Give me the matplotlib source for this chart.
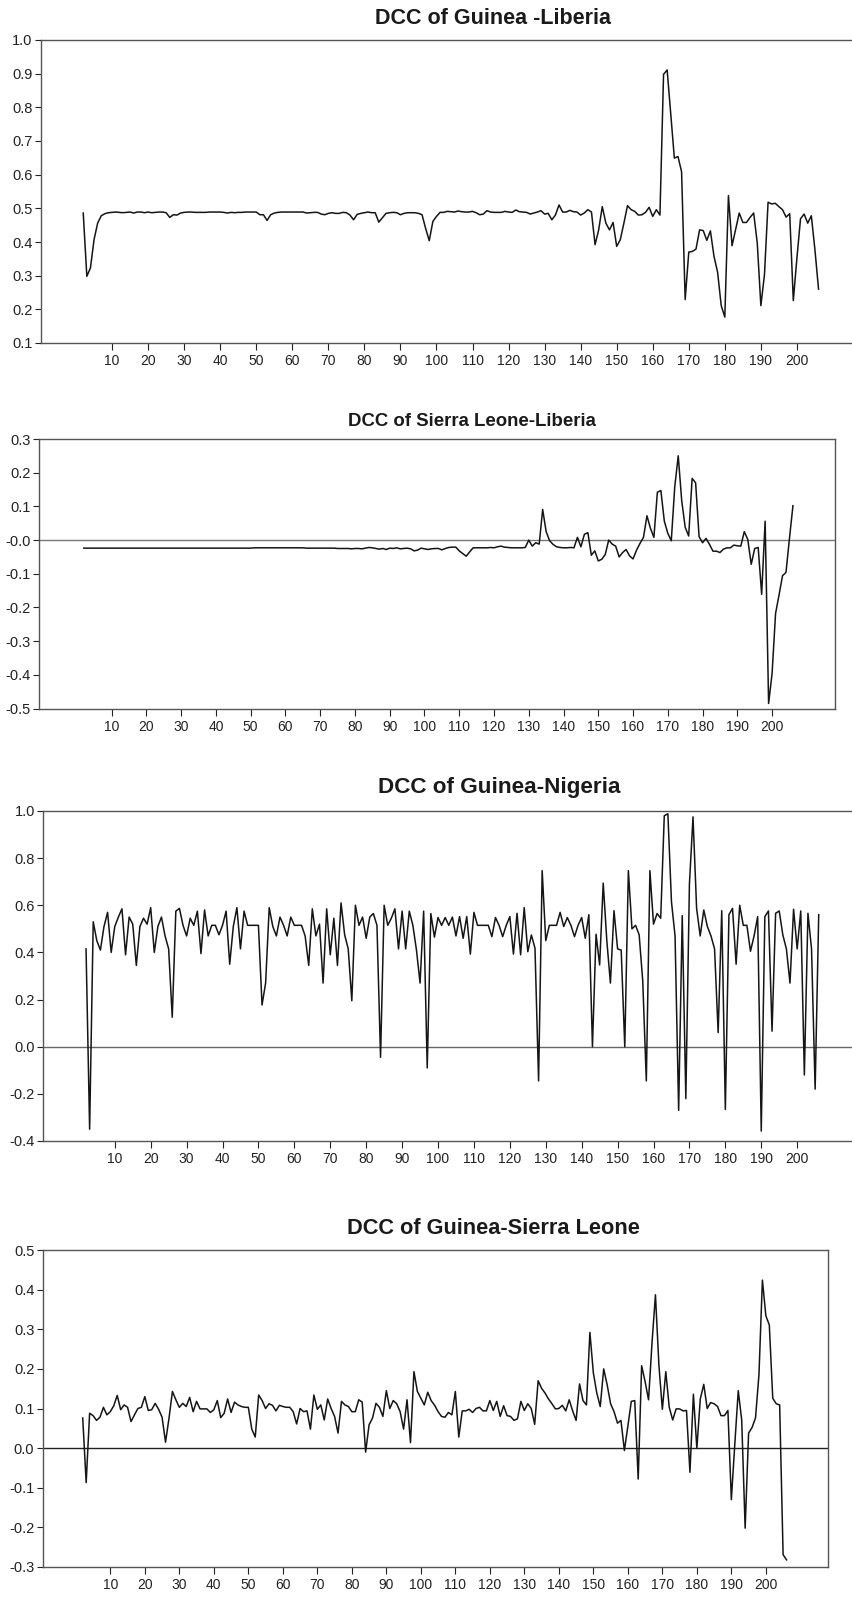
import matplotlib
matplotlib.use("Agg")
import matplotlib.pyplot as plt

plt.rcParams['font.family'] = ['Liberation Sans', 'DejaVu Sans']

# observation index (first obs has no DCC value)
obs = list(range(2, 207))

guinea_liberia = [
    0.486, 0.298, 0.323, 0.407, 0.456, 0.478, 0.484, 0.487, 0.488,
    0.489, 0.488, 0.487, 0.488, 0.489, 0.486, 0.489, 0.489, 0.487, 0.489,
    0.487, 0.488, 0.489, 0.489, 0.487, 0.473, 0.481, 0.480, 0.486, 0.488,
    0.489, 0.489, 0.488, 0.488, 0.488, 0.488, 0.489, 0.489, 0.489, 0.489,
    0.488, 0.486, 0.488, 0.487, 0.488, 0.488, 0.489, 0.489, 0.489, 0.489,
    0.481, 0.481, 0.464, 0.481, 0.486, 0.488, 0.489, 0.489, 0.489, 0.489,
    0.489, 0.489, 0.489, 0.486, 0.487, 0.488, 0.488, 0.483, 0.481, 0.485,
    0.487, 0.485, 0.485, 0.488, 0.487, 0.480, 0.466, 0.482, 0.485, 0.487,
    0.489, 0.487, 0.487, 0.459, 0.472, 0.485, 0.487, 0.488, 0.487, 0.481,
    0.485, 0.487, 0.487, 0.487, 0.485, 0.481, 0.440, 0.404, 0.461, 0.476,
    0.488, 0.488, 0.491, 0.490, 0.489, 0.492, 0.490, 0.489, 0.489, 0.491,
    0.487, 0.481, 0.483, 0.493, 0.489, 0.488, 0.488, 0.488, 0.491, 0.489,
    0.488, 0.495, 0.490, 0.489, 0.488, 0.483, 0.486, 0.489, 0.493, 0.483,
    0.485, 0.466, 0.480, 0.510, 0.489, 0.489, 0.494, 0.490, 0.489, 0.480,
    0.486, 0.496, 0.489, 0.392, 0.436, 0.505, 0.456, 0.436, 0.458, 0.387,
    0.407, 0.456, 0.508, 0.496, 0.491, 0.480, 0.481, 0.488, 0.503, 0.476,
    0.496, 0.480, 0.898, 0.911, 0.778, 0.649, 0.654, 0.609, 0.229, 0.370,
    0.372, 0.379, 0.436, 0.434, 0.405, 0.433, 0.357, 0.310, 0.211, 0.177,
    0.538, 0.389, 0.438, 0.486, 0.458, 0.458, 0.473, 0.486, 0.397, 0.211,
    0.303, 0.518, 0.513, 0.515, 0.505, 0.496, 0.474, 0.484, 0.226, 0.352,
    0.469, 0.483, 0.456, 0.478, 0.377, 0.260,
]

sierra_liberia = [
    -0.024, -0.024, -0.024, -0.024, -0.024, -0.024, -0.024, -0.024, -0.024,
    -0.024, -0.024, -0.024, -0.024, -0.024, -0.024, -0.024, -0.024, -0.024, -0.024,
    -0.024, -0.024, -0.024, -0.024, -0.024, -0.024, -0.024, -0.024, -0.024, -0.024,
    -0.024, -0.024, -0.024, -0.024, -0.024, -0.024, -0.024, -0.024, -0.024, -0.024,
    -0.024, -0.024, -0.024, -0.024, -0.024, -0.024, -0.024, -0.024, -0.024, -0.024,
    -0.023, -0.023, -0.023, -0.023, -0.023, -0.023, -0.023, -0.023, -0.023, -0.023,
    -0.023, -0.023, -0.023, -0.023, -0.023, -0.024, -0.024, -0.024, -0.024, -0.024,
    -0.024, -0.024, -0.024, -0.024, -0.025, -0.025, -0.025, -0.025, -0.026, -0.025,
    -0.025, -0.026, -0.024, -0.022, -0.023, -0.025, -0.027, -0.025, -0.028, -0.024,
    -0.025, -0.023, -0.026, -0.025, -0.024, -0.026, -0.032, -0.030, -0.024, -0.026,
    -0.028, -0.026, -0.025, -0.025, -0.029, -0.025, -0.022, -0.021, -0.021, -0.032,
    -0.040, -0.048, -0.035, -0.023, -0.023, -0.023, -0.023, -0.023, -0.022, -0.023,
    -0.020, -0.018, -0.021, -0.022, -0.023, -0.023, -0.023, -0.023, -0.022, 0.000,
    -0.018, -0.008, -0.012, 0.091, 0.025, -0.002, -0.013, -0.020, -0.022, -0.023,
    -0.023, -0.022, -0.023, 0.008, -0.020, 0.017, 0.022, -0.045, -0.032, -0.062,
    -0.057, -0.043, 0.000, -0.012, -0.018, -0.050, -0.037, -0.028, -0.047, -0.056,
    -0.030, -0.010, 0.008, 0.072, 0.035, 0.008, 0.142, 0.147, 0.056, 0.020,
    -0.002, 0.158, 0.250, 0.117, 0.038, 0.012, 0.183, 0.170, 0.010, -0.008,
    0.005, -0.013, -0.033, -0.033, -0.037, -0.027, -0.023, -0.023, -0.015, -0.017,
    -0.018, 0.025, 0.002, -0.072, -0.025, -0.022, -0.161, 0.056, -0.485, -0.396,
    -0.218, -0.163, -0.106, -0.096, 0.005, 0.102,
]

guinea_nigeria = [
    0.415, -0.350, 0.530, 0.450, 0.410, 0.510, 0.570, 0.400, 0.510,
    0.550, 0.585, 0.390, 0.550, 0.520, 0.345, 0.510, 0.545, 0.520, 0.590,
    0.400, 0.510, 0.550, 0.470, 0.415, 0.125, 0.575, 0.587, 0.515, 0.470,
    0.545, 0.515, 0.575, 0.395, 0.580, 0.470, 0.515, 0.515, 0.475, 0.515,
    0.575, 0.350, 0.510, 0.590, 0.415, 0.575, 0.515, 0.515, 0.515, 0.515,
    0.177, 0.270, 0.590, 0.510, 0.470, 0.550, 0.515, 0.470, 0.550, 0.515,
    0.515, 0.515, 0.470, 0.345, 0.585, 0.470, 0.520, 0.270, 0.585, 0.390,
    0.545, 0.345, 0.610, 0.475, 0.415, 0.195, 0.600, 0.515, 0.550, 0.460,
    0.550, 0.565, 0.515, -0.045, 0.600, 0.515, 0.545, 0.585, 0.415, 0.575,
    0.415, 0.575, 0.515, 0.410, 0.270, 0.575, -0.090, 0.565, 0.465, 0.548,
    0.515, 0.548, 0.515, 0.550, 0.470, 0.552, 0.460, 0.552, 0.393, 0.570,
    0.515, 0.515, 0.515, 0.515, 0.467, 0.548, 0.515, 0.467, 0.515, 0.552,
    0.393, 0.566, 0.390, 0.590, 0.403, 0.474, 0.418, -0.145, 0.747, 0.450,
    0.515, 0.515, 0.515, 0.570, 0.510, 0.548, 0.515, 0.467, 0.515, 0.548,
    0.460, 0.560, 0.000, 0.477, 0.347, 0.694, 0.450, 0.270, 0.577, 0.415,
    0.410, 0.000, 0.747, 0.500, 0.515, 0.475, 0.280, -0.145, 0.747, 0.520,
    0.565, 0.545, 0.980, 0.988, 0.615, 0.470, -0.270, 0.556, -0.220, 0.690,
    0.975, 0.587, 0.470, 0.580, 0.510, 0.470, 0.415, 0.060, 0.577, -0.266,
    0.560, 0.587, 0.350, 0.600, 0.515, 0.515, 0.405, 0.470, 0.552, -0.358,
    0.552, 0.576, 0.066, 0.566, 0.576, 0.475, 0.415, 0.270, 0.583, 0.415,
    0.576, -0.120, 0.566, 0.415, -0.180, 0.560,
]

guinea_sierra = [
    0.076, -0.087, 0.088, 0.082, 0.070, 0.078, 0.103, 0.084, 0.092,
    0.107, 0.133, 0.097, 0.109, 0.103, 0.067, 0.084, 0.100, 0.103, 0.130,
    0.095, 0.097, 0.113, 0.098, 0.078, 0.015, 0.075, 0.143, 0.122, 0.103,
    0.113, 0.105, 0.128, 0.092, 0.118, 0.099, 0.099, 0.099, 0.090, 0.097,
    0.120, 0.077, 0.088, 0.124, 0.090, 0.116, 0.109, 0.105, 0.103, 0.103,
    0.048, 0.028, 0.134, 0.120, 0.100, 0.112, 0.108, 0.094, 0.108, 0.105,
    0.103, 0.103, 0.092, 0.061, 0.100, 0.092, 0.094, 0.048, 0.134, 0.098,
    0.109, 0.071, 0.124, 0.100, 0.080, 0.038, 0.118, 0.109, 0.105, 0.092,
    0.092, 0.122, 0.116, -0.010, 0.059, 0.076, 0.113, 0.103, 0.080, 0.145,
    0.100, 0.120, 0.112, 0.092, 0.048, 0.122, 0.014, 0.193, 0.143, 0.126,
    0.109, 0.141, 0.120, 0.108, 0.092, 0.080, 0.078, 0.090, 0.084, 0.143,
    0.028, 0.094, 0.094, 0.098, 0.090, 0.100, 0.103, 0.094, 0.094, 0.120,
    0.095, 0.118, 0.080, 0.107, 0.082, 0.080, 0.070, 0.074, 0.118, 0.095,
    0.112, 0.100, 0.060, 0.170, 0.151, 0.139, 0.124, 0.112, 0.099, 0.100,
    0.108, 0.094, 0.122, 0.094, 0.070, 0.162, 0.120, 0.109, 0.292, 0.190,
    0.139, 0.105, 0.200, 0.160, 0.112, 0.092, 0.063, 0.070, -0.006, 0.055,
    0.118, 0.120, -0.078, 0.208, 0.168, 0.122, 0.265, 0.387, 0.210, 0.098,
    0.193, 0.103, 0.071, 0.099, 0.099, 0.094, 0.095, -0.061, 0.136, 0.000,
    0.124, 0.161, 0.100, 0.115, 0.112, 0.105, 0.082, 0.082, 0.095, -0.130,
    0.010, 0.145, 0.071, -0.202, 0.038, 0.052, 0.076, 0.185, 0.424, 0.334,
    0.311, 0.126, 0.112, 0.109, -0.269, -0.282,
]

x_ticks = list(range(10, 201, 10))

titles = ["DCC of Guinea -Liberia", "DCC of Sierra Leone-Liberia",
          "DCC of Guinea-Nigeria", "DCC of Guinea-Sierra Leone"]

yticks_gl = [0.1, 0.2, 0.3, 0.4, 0.5, 0.6, 0.7, 0.8, 0.9, 1.0]
ylabels_gl = ["0.1", "0.2", "0.3", "0.4", "0.5", "0.6", "0.7", "0.8", "0.9", "1.0"]
yticks_sl = [-0.5, -0.4, -0.3, -0.2, -0.1, 0.0, 0.1, 0.2, 0.3]
ylabels_sl = ["-0.5", "-0.4", "-0.3", "-0.2", "-0.1", "-0.0", "0.1", "0.2", "0.3"]
yticks_gn = [-0.4, -0.2, 0.0, 0.2, 0.4, 0.6, 0.8, 1.0]
ylabels_gn = ["-0.4", "-0.2", "0.0", "0.2", "0.4", "0.6", "0.8", "1.0"]
yticks_gs = [-0.3, -0.2, -0.1, 0.0, 0.1, 0.2, 0.3, 0.4, 0.5]
ylabels_gs = ["-0.3", "-0.2", "-0.1", "0.0", "0.1", "0.2", "0.3", "0.4", "0.5"]

W, H = 853, 1597
fig = plt.figure(figsize=(W / 100, H / 100), dpi=100)


def panel(l, t, r, b):
    # pixel box -> figure fraction
    return fig.add_axes([l / W, 1 - b / H, (r - l) / W, (b - t) / H])


# (left, top, right, bottom) in px, x-limits, y-limits, title pos, title size, zero line
specs = [
    dict(box=(40.7, 40, 869, 343), xlim=(-9.8, 220), ylim=(0.1, 1.0),
         yt=yticks_gl, yl=ylabels_gl, data=guinea_liberia,
         tpos=(493, 19), tsize=15.5, zero=None),
    dict(box=(39, 439, 835, 708.5), xlim=(-10.9, 218.1), ylim=(-0.5, 0.3),
         yt=yticks_sl, yl=ylabels_sl, data=sierra_liberia,
         tpos=(472, 421), tsize=13.4, zero='#777777'),
    dict(box=(43.3, 811, 869, 1141), xlim=(-9.9, 220), ylim=(-0.4, 1.0),
         yt=yticks_gn, yl=ylabels_gn, data=guinea_nigeria,
         tpos=(499, 787), tsize=16.2, zero='#666666'),
    dict(box=(42.7, 1250, 828.3, 1567), xlim=(-9.6, 218.1), ylim=(-0.3, 0.5),
         yt=yticks_gs, yl=ylabels_gs, data=guinea_sierra,
         tpos=(493, 1228), tsize=15.7, zero='#222222'),
]

for s, title in zip(specs, titles):
    ax = panel(*s['box'])
    ax.plot(obs, s['data'], color='#151515', lw=1.1, zorder=3)
    if s['zero'] is not None:
        ax.axhline(0, color=s['zero'], lw=1.0, zorder=2)
    ax.set_xlim(*s['xlim'])
    ax.set_ylim(*s['ylim'])
    ax.set_xticks(x_ticks)
    ax.set_xticklabels([str(v) for v in x_ticks])
    ax.set_yticks(s['yt'])
    ax.set_yticklabels(s['yl'])
    ax.tick_params(axis='x', direction='out', length=5, width=0.8,
                   pad=3, labelsize=10, colors='#222222')
    ax.tick_params(axis='y', direction='out', length=4, width=0.8,
                   pad=2, labelsize=10.5, colors='#222222')
    for sp in ax.spines.values():
        sp.set_color('#555555')
        sp.set_linewidth(1.0)
    fig.text(s['tpos'][0] / W, 1 - s['tpos'][1] / H, title,
             ha='center', va='center', fontsize=s['tsize'],
             fontweight='bold', color='#1a1a1a')

fig.savefig("out.png", dpi=100)
